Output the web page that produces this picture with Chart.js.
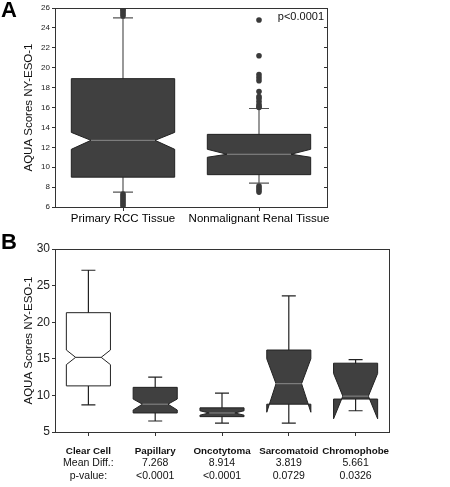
<!DOCTYPE html>
<html><head><meta charset="utf-8">
<script src="https://cdn.jsdelivr.net/npm/chart.js@4"></script>
<style>
body{margin:0;background:#fff;width:450px;height:487px;position:relative;overflow:hidden;font-family:Arial,"Liberation Sans",sans-serif}
.w{position:absolute;left:0;width:450px}
.lbl{position:absolute;font:bold 22px "Liberation Sans",Arial,sans-serif;left:1px}
</style></head><body>
<div class="w" style="top:0;height:230px"><canvas id="a"></canvas></div>
<div class="w" style="top:230px;height:257px"><canvas id="b"></canvas></div>
<div class="lbl" style="top:-3px">A</div>
<div class="lbl" style="top:229px">B</div>
<script>
// Panel A
const catsA = ['Primary RCC Tissue','Nonmalignant Renal Tissue'];
const lowA   = [7.5, 8.4];
const q1A    = [9.0, 9.25];
const medA   = [12.7, 11.3];
const q3A    = [18.9, 13.3];
const highA  = [25.0, 15.9];
const nLoA   = [11.8, 11.0];
const nHiA   = [13.5, 11.8];
const outA0  = [25.2,25.4,25.6,25.8,25.9,7.3,7.1,6.9,6.7,6.5,6.3,6.1];
const outA1  = [24.8,21.2,19.3,19.0,18.7,17.6,17.1,16.9,16.6,16.3,16.1,16.0,8.1,7.9,7.7,7.5];
const ticksA = [6,8,10,12,14,16,18,20,22,24,26];
// Panel B
const catsB = ['Clear Cell','Papillary','Oncotytoma','Sarcomatoid','Chromophobe'];
const meanDiffB = ['Mean Diff.:','7.268','8.914','3.819','5.661'];
const pValB = ['p-value:','<0.0001','<0.0001','0.0729','0.0326'];
const lowB  = [8.7, 6.5, 6.2, 6.2, 7.9];
const q1B   = [11.3, 7.6, 7.1, 8.8, 9.5];
const medB  = [15.2, 8.8, 7.6, 11.6, 9.9];
const q3B   = [21.3, 11.1, 8.3, 16.2, 14.4];
const highB = [27.1, 12.5, 10.3, 23.6, 14.9];
const nLoB  = [14.2, 8.0, 7.3, 7.7, 6.8];
const nHiB  = [16.2, 9.5, 7.9, 15.0, 13.0];
const fillB = ['#ffffff','#404040','#404040','#404040','#404040'];
const ticksB = [5,10,15,20,25,30];

function boxPlugin(cfg){
  return {id:'box'+cfg.id,
  beforeDatasetsDraw(chart){
    const c=chart.ctx,x=chart.scales.x,y=chart.scales.y,ca=chart.chartArea;
    const slot=(ca.right-ca.left)/cfg.cats.length;
    cfg.cats.forEach((k,i)=>{
      const cx=x.getPixelForValue(i), hw=slot*cfg.bw/2, d=hw*cfg.nd;
      const Y=v=>y.getPixelForValue(v);
      c.save();c.strokeStyle=cfg.wc;c.lineWidth=1.2;
      c.beginPath();c.moveTo(cx,Y(cfg.low[i]));c.lineTo(cx,Y(cfg.high[i]));
      c.moveTo(cx-cfg.cap,Y(cfg.low[i]));c.lineTo(cx+cfg.cap,Y(cfg.low[i]));
      c.moveTo(cx-cfg.cap,Y(cfg.high[i]));c.lineTo(cx+cfg.cap,Y(cfg.high[i]));c.stroke();
      const q1=cfg.q1[i],q3=cfg.q3[i],m=cfg.med[i],lo=cfg.nlo[i],hi=cfg.nhi[i];
      const side=s=>{const out=cx+s*hw,inn=cx+s*(hw-d);
        const p=[[out,Y(q3)]];
        if(hi<q3)p.push([out,Y(hi)]);
        p.push([inn,Y(m)],[out,Y(lo)],[out,Y(q1)]);
        return p;};
      const poly=[...side(1),...side(-1).reverse()];
      c.fillStyle=cfg.fill[i];c.strokeStyle='#222';c.lineWidth=1;
      c.beginPath();c.moveTo(...poly[0]);poly.slice(1).forEach(p=>c.lineTo(...p));c.closePath();c.fill();c.stroke();
      c.strokeStyle=cfg.fill[i]==='#ffffff'?'#222':'#8a8a8a';
      c.beginPath();c.moveTo(cx-(hw-d),Y(m));c.lineTo(cx+(hw-d),Y(m));c.stroke();
      c.restore();
    });
  },
  afterDraw(chart){
    const c=chart.ctx,ca=chart.chartArea;
    c.save();c.strokeStyle='#333';c.lineWidth=1;
    c.strokeRect(ca.left+0.5,ca.top+0.5,ca.right-ca.left,ca.bottom-ca.top);
    c.restore();
    if(cfg.after)cfg.after(chart);
  }};
}

const common=(cats,min,max,step,fs,ytitle,pad,xh,yw,right)=>({
  responsive:true,maintainAspectRatio:false,animation:false,
  layout:{padding:pad},
  plugins:{legend:{display:false},tooltip:{enabled:false}},
  scales:{
    x:{type:'category',labels:cats,offset:true,
       grid:{drawOnChartArea:false,offset:false,tickLength:4,color:'#333'},border:{display:false},
       ticks:{display:!!right,color:'#000',font:{size:11.5,family:'Arial, Liberation Sans'},padding:1,maxRotation:0,autoSkip:false},
       afterFit:s=>{s.height=xh;}},
    y:{min:min,max:max,afterBuildTicks:s=>{s.ticks=step.map(v=>({value:v}));},
       grid:{drawOnChartArea:false,tickLength:3,color:'#333'},border:{display:false},
       title:{display:true,text:ytitle,font:{size:11.5,family:'Arial, Liberation Sans'},color:'#111',padding:0},
       ticks:{color:'#222',font:{size:fs,family:'Arial, Liberation Sans'},padding:2},
       afterFit:s=>{s.width=yw;}},
    ...(right?{y2:{position:'right',min:min,max:max,afterBuildTicks:s=>{s.ticks=step.map(v=>({value:v}));},
       grid:{drawOnChartArea:false,tickLength:-3,color:'#333'},border:{display:false},ticks:{display:false}, afterFit:s=>{s.width=0;}}}:{})
  }
});

new Chart(document.getElementById('a'),{
  type:'line',
  data:{datasets:[{data:[...outA0.map(v=>({x:catsA[0],y:v})),...outA1.map(v=>({x:catsA[1],y:v}))],
    showLine:false,pointRadius:2.8,pointBackgroundColor:'#3a3a3a',pointBorderWidth:0}]},
  options:common(catsA,6,26,ticksA,8,'AQUA Scores NY-ESO-1',{left:22,right:123,top:8,bottom:0},23,33,true),
  plugins:[boxPlugin({id:'A',cats:catsA,low:lowA,high:highA,q1:q1A,q3:q3A,med:medA,nlo:nLoA,nhi:nHiA,
    fill:['#404040','#404040'],bw:0.76,nd:0.38,cap:10,wc:'#555',
    after(ch){const c=ch.ctx;c.save();c.font='11px Arial, Liberation Sans';c.fillStyle='#111';c.textAlign='right';c.textBaseline='top';
      c.fillText('p<0.0001',ch.chartArea.right-3,ch.chartArea.top+3);c.restore();}})]
});

new Chart(document.getElementById('b'),{
  type:'line',
  data:{datasets:[{data:[]}]},
  options:common(catsB,5,30,ticksB,12,'AQUA Scores NY-ESO-1',{left:22,right:61,top:19,bottom:0},55,33,false),
  plugins:[boxPlugin({id:'B',cats:catsB,low:lowB,high:highB,q1:q1B,q3:q3B,med:medB,nlo:nLoB,nhi:nHiB,
    fill:fillB,bw:0.66,nd:0.42,cap:7,wc:'#222',
    after(ch){const c=ch.ctx,x=ch.scales.x,b=ch.chartArea.bottom;c.save();c.fillStyle='#111';c.textAlign='center';c.textBaseline='middle';
      catsB.forEach((k,i)=>{const px=x.getPixelForValue(i);
        c.font='bold 9.8px Arial, Liberation Sans';c.fillText(k,px,b+19);
        c.font='10.5px Arial, Liberation Sans';c.fillText(meanDiffB[i],px,b+31);c.fillText(pValB[i],px,b+44);});
      c.restore();}})]
});
</script></body></html>
